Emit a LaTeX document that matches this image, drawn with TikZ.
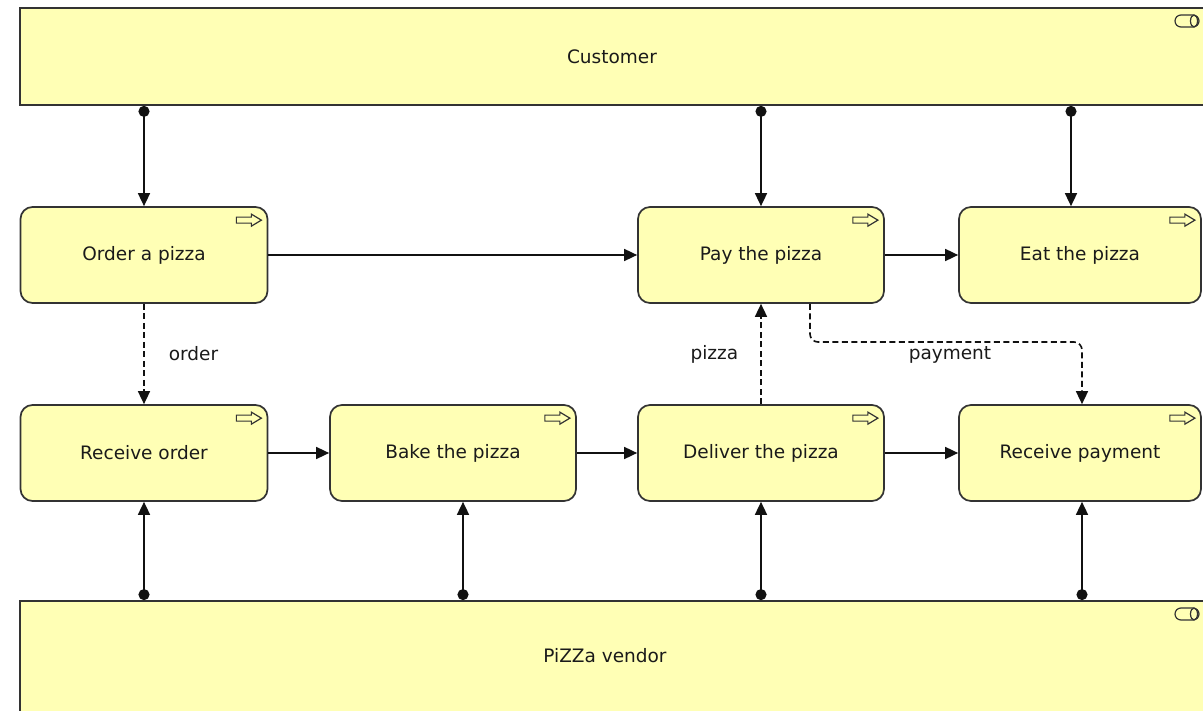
\documentclass[tikz,border=0pt]{standalone}
\usepackage{fontspec}
\setmainfont{DejaVu Sans}
\usetikzlibrary{arrows.meta,calc}
\definecolor{bizfill}{HTML}{FFFFB5}
\definecolor{edgecol}{HTML}{333333}
\definecolor{txtcol}{HTML}{1A1A1A}
\definecolor{linecol}{HTML}{111111}
\begin{document}
\begin{tikzpicture}[x=1pt,y=-1pt,
  txt/.style={text=txtcol,font=\fontsize{18.5}{22}\selectfont,inner sep=0pt},
  bigbox/.style={draw=edgecol,fill=bizfill,line width=1.8pt,inner sep=0pt},
  proc/.style={draw=edgecol,fill=bizfill,line width=1.7pt,rounded corners=12pt,
    minimum height=96pt,inner sep=0pt,text=txtcol,font=\fontsize{18.5}{22}\selectfont},
  conn/.style={draw=linecol,line width=1.6pt},
  flow/.style={conn,-{Triangle[length=13pt,width=12pt]}},
  dotflow/.style={conn,{Circle[length=11pt]}-{Triangle[length=13pt,width=12pt]}},
  dflow/.style={conn,dash pattern=on 6pt off 3.5pt,-{Triangle[length=13pt,width=12pt]}},
  icon/.style={draw=edgecol,line width=1.2pt,fill=none,line join=miter}
]
\useasboundingbox (0,0) rectangle (1203,711);
\fill[white] (0,0) rectangle (1203,711);
\clip (0,0) rectangle (1203,711);

% big boxes (actors)
\node[bigbox,minimum width=1200pt,minimum height=97pt] (customer) at (620,56.5) {};
\node[txt] (customertext) at (612,57) {Customer};
\node[bigbox,minimum width=1200pt,minimum height=130pt] (vendor) at (620,666) {};
\node[txt] (vendortext) at (605,656) {PiZZa vendor};

% role icons
\draw[icon,rounded corners=6pt] (1175,15) rectangle (1199,27);
\draw[icon] (1194,21) ellipse [x radius=3.5, y radius=6];
\draw[icon,rounded corners=6pt] (1175,608) rectangle (1199,620);
\draw[icon] (1194,614) ellipse [x radius=3.5, y radius=6];

% processes
\node[proc,minimum width=247pt] (order) at (144,255) {Order a pizza};
\node[proc,minimum width=246pt] (pay) at (761,255) {Pay the pizza};
\node[proc,minimum width=242pt] (eat) at (1080,255) {Eat the pizza};
\node[proc,minimum width=247pt] (rorder) at (144,453) {Receive order};
\node[proc,minimum width=246pt] (bake) at (453,453) {Bake the pizza};
\node[proc,minimum width=246pt] (deliver) at (761,453) {Deliver the pizza};
\node[proc,minimum width=242pt] (rpay) at (1080,453) {Receive payment};

% process icons
\foreach \n in {order,pay,eat,rorder,bake,deliver,rpay}{
  \draw[icon] ([xshift=-32pt,yshift=-14pt]\n.north east) ++(0,-3) -- ++(15,0) -- ++(0,-3)
    -- ++(10,6) -- ++(-10,6) -- ++(0,-3) -- ++(-15,0) -- cycle;
}

% anchor points
\coordinate (eattop) at ($(eat.north)+(-9,0)$);
\coordinate (bakebot) at ($(bake.south)+(10,0)$);
\coordinate (rpaybot) at ($(rpay.south)+(2,0)$);
\coordinate (paybot) at ($(pay.south)+(49,0)$);
\coordinate (rpaytop) at ($(rpay.north)+(2,0)$);
\coordinate (paybend) at (paybot |- 0,342);

% customer assignments
\draw[dotflow] (order.north |- customer.south) -- (order.north);
\draw[dotflow] (pay.north |- customer.south) -- (pay.north);
\draw[dotflow] (eattop |- customer.south) -- (eattop);

% vendor assignments
\draw[dotflow] (rorder.south |- vendor.north) -- (rorder.south);
\draw[dotflow] (bakebot |- vendor.north) -- (bakebot);
\draw[dotflow] (deliver.south |- vendor.north) -- (deliver.south);
\draw[dotflow] (rpaybot |- vendor.north) -- (rpaybot);

% triggering
\draw[flow] (order.east) -- (pay.west);
\draw[flow] (pay.east) -- (eat.west);
\draw[flow] (rorder.east) -- (bake.west);
\draw[flow] (bake.east) -- (deliver.west);
\draw[flow] (deliver.east) -- (rpay.west);

% flows
\draw[dflow] (order.south) -- node[txt,right=24pt] (orderlbl) {order} (rorder.north);
\draw[dflow] (deliver.north) -- node[txt,left=22pt] (pizzalbl) {pizza} (pay.south);
\draw[dflow,rounded corners=8pt] (paybot) -- (paybend) -- (paybend -| rpaytop) -- (rpaytop);
\node[txt] (paymentlbl) at (950,355) {payment};
\end{tikzpicture}
\end{document}
